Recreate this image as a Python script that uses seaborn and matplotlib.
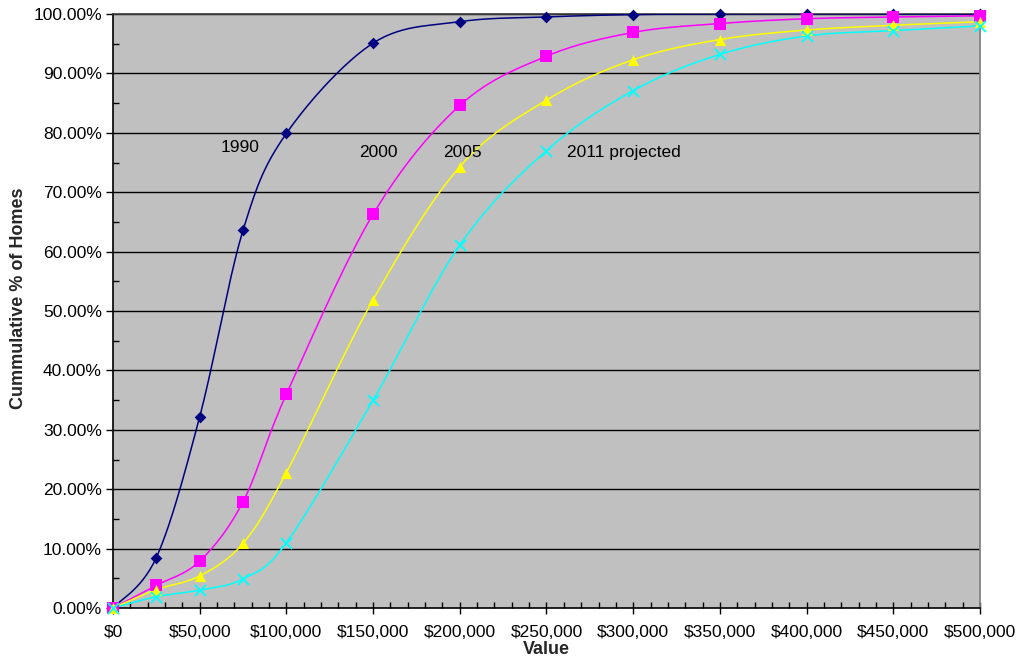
import numpy as np
import pandas as pd
import matplotlib
matplotlib.use("Agg")
import matplotlib.pyplot as plt
from matplotlib.ticker import FuncFormatter, MultipleLocator
import seaborn as sns

# Home values and cumulative share of homes at or below each value
values = [0, 25000, 50000, 75000, 100000, 150000, 200000, 250000,
          300000, 350000, 400000, 450000, 500000]
pct_1990 = [0.0, 8.5, 32.2, 63.6, 79.9, 95.1, 98.7, 99.5, 99.9, 100.0, 100.0, 100.0, 100.0]
pct_2000 = [0.0, 3.8, 7.9, 17.9, 36.0, 66.3, 84.6, 92.9, 96.9, 98.4, 99.2, 99.5, 99.7]
pct_2005 = [0.0, 3.1, 5.4, 10.9, 22.8, 51.9, 74.3, 85.5, 92.3, 95.7, 97.3, 98.1, 98.7]
pct_2011 = [0.0, 1.9, 3.0, 4.9, 11.0, 35.0, 61.1, 77.0, 87.1, 93.2, 96.3, 97.2, 98.0]

series_names = ["1990", "2000", "2005", "2011 projected"]
series_values = [pct_1990, pct_2000, pct_2005, pct_2011]

colors = {"1990": "#000080", "2000": "#FF00FF", "2005": "#FFFF00", "2011 projected": "#00FFFF"}
markers = {"1990": "D", "2000": "s", "2005": "^", "2011 projected": "x"}
msizes = {"1990": 6, "2000": 8, "2005": 8, "2011 projected": 8}

# Curve label positions (value, fraction)
label_pos = {"1990": (73000, 0.776), "2000": (152800, 0.766),
             "2005": (201300, 0.766), "2011 projected": (261800, 0.766)}
label_ha = {"1990": "center", "2000": "center", "2005": "center", "2011 projected": "left"}

rows = []
for name, vals in zip(series_names, series_values):
    for v, p in zip(values, vals):
        rows.append({"Value": v, "Share": p / 100.0, "Series": name})
df = pd.DataFrame(rows)

sns.set_theme(style="white")
plt.rcParams["font.family"] = ["Liberation Sans", "DejaVu Sans"]

fig = plt.figure(figsize=(10.2, 6.6), dpi=100)
ax = fig.add_axes([113 / 1020, 1 - 608 / 660, 867 / 1020, 594 / 660])
ax.set_facecolor("#C0C0C0")
ax.set_xlim(0, 500000)
ax.set_ylim(0, 1.0)


def smooth_line(xs, ys, steps=30):
    """Spreadsheet-style smoothed line: cubic Bezier segments with
    Catmull-Rom control points, computed in axis-fraction space."""
    xs = np.asarray(xs, float) / 500000.0
    ys = np.asarray(ys, float)
    n = len(xs)
    out_x, out_y = [], []
    t = np.linspace(0, 1, steps)
    for i in range(n - 1):
        p0 = np.array([xs[max(i - 1, 0)], ys[max(i - 1, 0)]])
        p1 = np.array([xs[i], ys[i]])
        p2 = np.array([xs[i + 1], ys[i + 1]])
        p3 = np.array([xs[min(i + 2, n - 1)], ys[min(i + 2, n - 1)]])
        c1 = p1 + (p2 - p0) / 6.0
        c2 = p2 - (p3 - p1) / 6.0
        pts = (((1 - t) ** 3)[:, None] * p1 + (3 * (1 - t) ** 2 * t)[:, None] * c1
               + (3 * (1 - t) * t ** 2)[:, None] * c2 + (t ** 3)[:, None] * p2)
        out_x.extend(pts[:, 0] * 500000.0)
        out_y.extend(pts[:, 1])
    return np.array(out_x), np.array(out_y)


# Horizontal gridlines every 10%
for g in np.arange(0.1, 1.01, 0.1):
    ax.axhline(g, color="black", lw=1.0, zorder=1)

for name in series_names:
    sub = df[df["Series"] == name]
    sx, sy = smooth_line(sub["Value"], sub["Share"])
    curve = pd.DataFrame({"Value": sx, "Share": sy})
    sns.lineplot(data=curve, x="Value", y="Share", ax=ax, color=colors[name],
                 lw=1.1, sort=False, estimator=None, zorder=3)
    mk = markers[name]
    kw = dict(marker=mk, s=msizes[name] ** 2, color=colors[name], zorder=4, clip_on=False)
    if mk == "x":
        kw.update(linewidth=1.3)
    else:
        kw.update(edgecolor=colors[name], linewidth=0)
    sns.scatterplot(data=sub, x="Value", y="Share", ax=ax, legend=False, **kw)
    lx, ly = label_pos[name]
    ax.text(lx, ly, name, fontsize=12.5, ha=label_ha[name], va="center", color="black", zorder=5)

# Axes styling
ax.xaxis.set_major_locator(MultipleLocator(50000))
ax.xaxis.set_minor_locator(MultipleLocator(10000))
ax.yaxis.set_major_locator(MultipleLocator(0.1))
ax.yaxis.set_minor_locator(MultipleLocator(0.05))
ax.xaxis.set_major_formatter(FuncFormatter(lambda v, _: f"${v:,.0f}"))
ax.yaxis.set_major_formatter(FuncFormatter(lambda v, _: f"{v * 100:.2f}%"))
ax.tick_params(axis="x", which="major", direction="inout", length=8, width=1, labelsize=12.5, pad=8, colors="black")
ax.tick_params(axis="x", which="minor", direction="in", length=4, width=1, colors="black")
ax.tick_params(axis="y", which="major", direction="out", length=5, width=1, labelsize=12.5, pad=3, colors="black")
ax.tick_params(axis="y", which="minor", direction="in", length=4, width=1, colors="black")
ax.tick_params(bottom=True, left=True, which="both")

for side in ["left", "bottom"]:
    ax.spines[side].set_color("black")
    ax.spines[side].set_linewidth(1.2)
ax.spines["right"].set_color("#808080")
ax.spines["top"].set_color("#404040")

ax.set_xlabel("Value", fontsize=13, fontweight="bold")
ax.xaxis.set_label_coords(0.5, -0.056)
ax.set_ylabel("Cummulative % of Homes", fontsize=13, fontweight="bold")
ax.yaxis.set_label_coords(-0.099, 0.522)

fig.savefig("out.png", dpi=100, facecolor="white")
